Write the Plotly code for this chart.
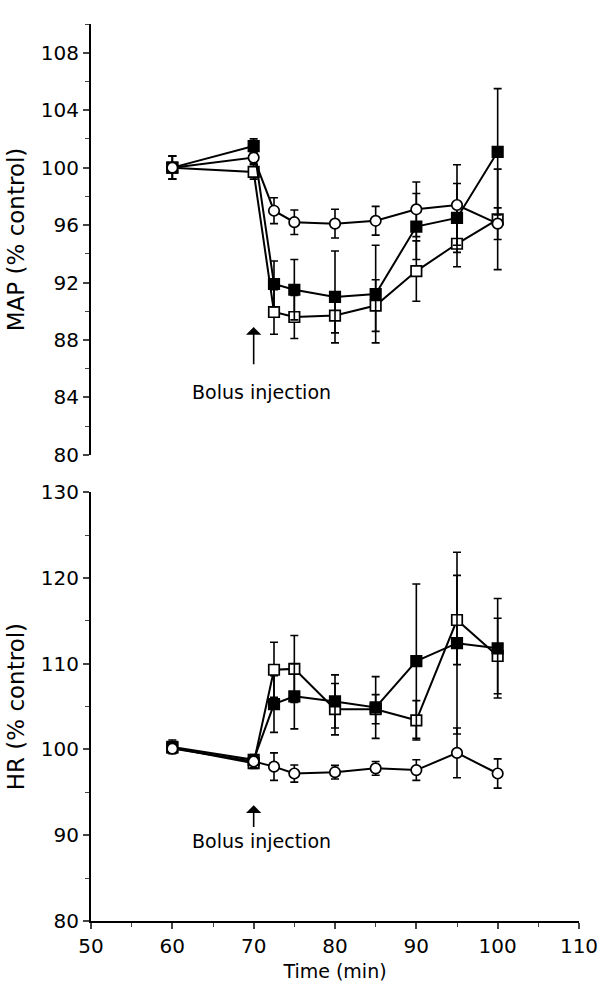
import plotly.graph_objects as go

# ---------------- data ----------------
time = [60, 70, 72.5, 75, 80, 85, 90, 95, 100]

# MAP (% control)
map_filled = [100.0, 101.5, 91.9, 91.5, 91.0, 91.2, 95.9, 96.5, 101.1]
map_filled_err = [0.8, 0.5, 1.6, 2.1, 3.2, 3.4, 2.3, 2.4, 4.4]
map_open = [100.0, 99.7, 89.95, 89.6, 89.7, 90.4, 92.8, 94.7, 96.4]
map_open_err = [0.8, 0.5, 1.55, 1.5, 1.2, 1.8, 2.1, 1.6, 3.5]
map_circle = [100.0, 100.7, 97.0, 96.2, 96.1, 96.3, 97.1, 97.4, 96.1]
map_circle_err = [0.8, 0.4, 0.9, 0.85, 1.0, 1.0, 1.9, 2.8, 1.1]

# HR (% control)
hr_filled = [100.3, 98.8, 105.3, 106.2, 105.6, 104.9, 110.3, 112.4, 111.8]
hr_filled_err = [0.8, 0.6, 3.3, 3.8, 3.1, 3.6, 9.0, 10.6, 5.8]
hr_open = [100.2, 98.4, 109.3, 109.4, 104.7, 104.7, 103.4, 115.1, 110.9]
hr_open_err = [0.6, 0.6, 3.2, 3.9, 3.0, 1.7, 2.3, 5.2, 4.4]
hr_circle = [100.1, 98.6, 98.0, 97.2, 97.35, 97.8, 97.6, 99.6, 97.2]
hr_circle_err = [0.5, 0.7, 1.6, 1.0, 0.8, 0.8, 1.2, 2.9, 1.7]

map_ticks = [80, 84, 88, 92, 96, 100, 104, 108]
hr_ticks = [80, 90, 100, 110, 120, 130]
time_ticks = [50, 60, 70, 80, 90, 100, 110]

FONT = "DejaVu Sans, Arial, sans-serif"
fig = go.Figure()


def add_series(x, y, err, symbol, fill, xa, ya):
    fig.add_trace(go.Scatter(
        x=x, y=y, mode="lines+markers", xaxis=xa, yaxis=ya,
        line=dict(color="black", width=2),
        marker=dict(symbol=symbol, size=10.5, color=fill,
                    line=dict(color="black", width=1.7)),
        error_y=dict(type="data", array=err, visible=True,
                     color="black", thickness=1.6, width=4),
        showlegend=False, cliponaxis=False,
    ))


# top panel (MAP)
add_series(time, map_open, map_open_err, "square", "white", "x", "y")
add_series(time, map_filled, map_filled_err, "square", "black", "x", "y")
add_series(time, map_circle, map_circle_err, "circle", "white", "x", "y")
# bottom panel (HR)
add_series(time, hr_open, hr_open_err, "square", "white", "x2", "y2")
add_series(time, hr_filled, hr_filled_err, "square", "black", "x2", "y2")
add_series(time, hr_circle, hr_circle_err, "circle", "white", "x2", "y2")

tickfont = dict(family=FONT, size=20, color="black")
ytitlefont = dict(family=FONT, size=23, color="black")

fig.update_layout(
    width=610, height=991,
    margin=dict(l=91, r=21, t=14, b=56),
    plot_bgcolor="white", paper_bgcolor="white",
    font=dict(family=FONT, color="black"),
    xaxis=dict(domain=[0, 1], range=[50, 110], anchor="y",
               visible=False),
    yaxis=dict(domain=[0.5196, 1.0], range=[80, 110], anchor="x",
               tickvals=map_ticks, ticks="outside", ticklen=6,
               tickwidth=1.6, showline=True, linecolor="black",
               linewidth=2, showgrid=False, zeroline=False,
               tickfont=tickfont,
               minor=dict(dtick=2, ticks="outside", ticklen=4,
                          tickwidth=1.3, showgrid=False),
               title=dict(text="MAP (% control)", standoff=10,
                          font=ytitlefont)),
    xaxis2=dict(domain=[0, 1], range=[50, 110], anchor="y2",
                tickvals=time_ticks, ticks="outside", ticklen=6,
                tickwidth=1.6, showline=True, linecolor="black",
                linewidth=2, showgrid=False, zeroline=False,
                tickfont=tickfont,
                minor=dict(dtick=5, ticks="outside", ticklen=4,
                           tickwidth=1.3, showgrid=False),
                title=dict(text="Time (min)", standoff=8,
                           font=dict(family=FONT, size=19))),
    yaxis2=dict(domain=[0, 0.478], range=[80, 130], anchor="x2",
                tickvals=hr_ticks, ticks="outside", ticklen=6,
                tickwidth=1.6, showline=True, linecolor="black",
                linewidth=2, showgrid=False, zeroline=False,
                tickfont=tickfont,
                minor=dict(dtick=5, ticks="outside", ticklen=4,
                           tickwidth=1.3, showgrid=False),
                title=dict(text="HR (% control)", standoff=10,
                           font=ytitlefont)),
)

# arrows and labels
fig.add_annotation(x=70, y=88.9, ax=70, ay=86.2, xref="x", yref="y",
                   axref="x", ayref="y", showarrow=True, arrowhead=1,
                   arrowsize=1.6, arrowwidth=1.6, arrowcolor="black", text="")
fig.add_annotation(x=71, y=84.4, xref="x", yref="y", showarrow=False,
                   text="Bolus injection",
                   font=dict(family=FONT, size=19, color="black"))
fig.add_annotation(x=70, y=93.5, ax=70, ay=90.8, xref="x2", yref="y2",
                   axref="x2", ayref="y2", showarrow=True, arrowhead=1,
                   arrowsize=1.6, arrowwidth=1.6, arrowcolor="black", text="")
fig.add_annotation(x=71, y=89.3, xref="x2", yref="y2", showarrow=False,
                   text="Bolus injection",
                   font=dict(family=FONT, size=19, color="black"))

fig.write_html("out.html")
